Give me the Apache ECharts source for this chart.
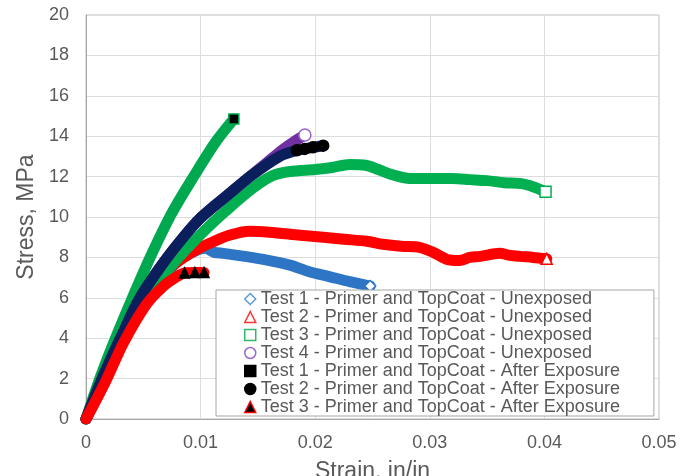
<!DOCTYPE html>
<html>
<head>
<meta charset="utf-8">
<script src="https://cdn.jsdelivr.net/npm/echarts@6/dist/echarts.min.js"></script>
<style>
  html, body { margin: 0; padding: 0; background: #fff; }
  #chart { width: 684px; height: 476px; }
</style>
</head>
<body>
<div id="chart"></div>
<script>
// Stress-strain curves, [strain (in/in), stress (MPa)]
const test1Unexposed = [[0,0],[0.0017,2.0],[0.0033,4.0],[0.0054,6.0],[0.0078,7.7],[0.0093,8.25],[0.0104,8.45],[0.0112,8.25],[0.012,8.2],[0.014,8.04],[0.0158,7.87],[0.0178,7.62],[0.0195,7.29],[0.0213,7.04],[0.023,6.8],[0.0248,6.58]];
const test2Unexposed = [[0,0],[0.0017,1.9],[0.0032,3.9],[0.0052,5.9],[0.0072,7.4],[0.0088,8.1],[0.0099,8.46],[0.0108,8.7],[0.0125,9.1],[0.0143,9.3],[0.016,9.25],[0.0187,9.1],[0.0207,9.0],[0.0225,8.9],[0.0245,8.8],[0.0259,8.65],[0.0275,8.55],[0.0291,8.5],[0.0303,8.25],[0.0315,7.9],[0.0326,7.85],[0.0335,8.0],[0.0344,8.05],[0.0361,8.2],[0.037,8.1],[0.0379,8.05],[0.039,8.0],[0.0402,7.93]];
const test3Unexposed = [[0,0],[0.0015,2.0],[0.0032,4.0],[0.0052,6.0],[0.0081,8.0],[0.0103,9.3],[0.0122,10.3],[0.0145,11.4],[0.0163,12.05],[0.0178,12.25],[0.020,12.35],[0.0215,12.45],[0.023,12.6],[0.0245,12.55],[0.0255,12.35],[0.027,12.05],[0.0285,11.9],[0.030,11.9],[0.032,11.9],[0.0335,11.85],[0.035,11.8],[0.0365,11.7],[0.038,11.65],[0.039,11.5],[0.0401,11.25]];
const test4Unexposed = [[0,0],[0.0014,2.0],[0.003,4.0],[0.0047,6.0],[0.0071,8.0],[0.0099,9.9],[0.0126,11.2],[0.0143,12.0],[0.0158,12.7],[0.0172,13.35],[0.0182,13.75],[0.0191,14.06]];
const test1Exposed = [[0,0],[0.0012,2.0],[0.0025,3.9],[0.0039,5.8],[0.0056,8.0],[0.0075,10.2],[0.0095,12.1],[0.0113,13.7],[0.0129,14.85]];
const test2Exposed = [[0,0],[0.0014,2.0],[0.003,4.0],[0.0047,6.0],[0.0071,8.0],[0.0085,9.0],[0.0099,9.9],[0.0126,11.2],[0.0143,12.0],[0.0169,13.0],[0.0184,13.3],[0.0191,13.37],[0.0198,13.45],[0.0207,13.53]];
const test3Exposed = [[0,0],[0.0017,1.85],[0.0033,3.8],[0.0053,5.7],[0.0068,6.6],[0.0078,7.0],[0.0086,7.23],[0.0095,7.25],[0.0103,7.25]];

const seriesNames = [
  'Test 1 - Primer and TopCoat - Unexposed',
  'Test 2 - Primer and TopCoat - Unexposed',
  'Test 3 - Primer and TopCoat - Unexposed',
  'Test 4 - Primer and TopCoat - Unexposed',
  'Test 1 - Primer and TopCoat - After Exposure',
  'Test 2 - Primer and TopCoat - After Exposure',
  'Test 3 - Primer and TopCoat - After Exposure'
];
const xTicks = { min: 0, max: 0.05, interval: 0.01 };
const yTicks = { min: 0, max: 20, interval: 2 };

// band colour, end-marker shape, fill, border, how many trailing points show a marker
const looks = [
  { data: test1Unexposed, band: '#2E75C6', symbol: 'diamond',  fill: '#fff', edge: '#2E75C6', size: 11, tail: 1 },
  { data: test2Unexposed, band: '#FF0000', symbol: 'triangle', fill: '#fff', edge: '#FF0000', size: 11, tail: 1 },
  { data: test3Unexposed, band: '#00B050', symbol: 'rect',     fill: '#fff', edge: '#00B050', size: 11, tail: 1 },
  { data: test4Unexposed, band: '#7030A0', symbol: 'circle',   fill: '#fff', edge: '#9966CC', size: 12, tail: 1 },
  { data: test1Exposed,   band: '#00A94F', symbol: 'rect',     fill: '#000', edge: '#00A94F', size: 10, tail: 1 },
  { data: test2Exposed,   band: '#0A1F5C', symbol: 'circle',   fill: '#000', edge: '#000',    size: 11, tail: 4 },
  { data: test3Exposed,   band: '#FF0000', symbol: 'triangle', fill: '#000', edge: '#000',    size: 10, tail: 3 }
];

const legendIcons = [
  { icon: 'diamond',  fill: '#fff', edge: '#5B9BD5' },
  { icon: 'triangle', fill: '#fff', edge: '#FF3333' },
  { icon: 'rect',     fill: '#fff', edge: '#33B86A' },
  { icon: 'circle',   fill: '#fff', edge: '#9966CC' },
  { icon: 'rect',     fill: '#000', edge: '#000' },
  { icon: 'circle',   fill: '#000', edge: '#000' },
  { icon: 'triangle', fill: '#000', edge: '#FF0000' }
];

const fontFamily = 'Liberation Sans, Arial, sans-serif';
const axisText = { color: '#595959', fontSize: 18, fontFamily: fontFamily };

const chart = echarts.init(document.getElementById('chart'), null, { renderer: 'canvas' });

chart.setOption({
  animation: false,
  backgroundColor: '#fff',
  grid: {
    left: 86, right: 25, top: 15, bottom: 57,
    outerBoundsMode: 'none',
    show: true, borderColor: '#BDBDBD', borderWidth: 1
  },
  xAxis: {
    type: 'value', min: xTicks.min, max: xTicks.max, interval: xTicks.interval,
    name: 'Strain, in/in', nameLocation: 'middle', nameGap: 41,
    nameTextStyle: { color: '#595959', fontSize: 23, fontFamily: fontFamily },
    axisLine: { show: true, lineStyle: { color: '#A6A6A6' } },
    axisTick: { show: false },
    axisLabel: Object.assign({ margin: 15 }, axisText),
    splitLine: { show: true, lineStyle: { color: '#DDDDDD', width: 1 } }
  },
  yAxis: {
    type: 'value', min: yTicks.min, max: yTicks.max, interval: yTicks.interval,
    name: 'Stress, MPa', nameLocation: 'middle', nameGap: 45,
    nameTextStyle: { color: '#595959', fontSize: 23, fontFamily: fontFamily },
    axisLine: { show: true, lineStyle: { color: '#A6A6A6' } },
    axisTick: { show: false },
    axisLabel: Object.assign({ margin: 17 }, axisText),
    splitLine: { show: true, lineStyle: { color: '#DDDDDD', width: 1 } }
  },
  legend: {
    orient: 'vertical',
    left: 216, top: 290,
    backgroundColor: '#fff',
    borderColor: '#A6A6A6', borderWidth: 1,
    padding: [0, 34, 0, 28],
    itemGap: 0,
    itemWidth: 11, itemHeight: 11,
    textStyle: { color: '#595959', fontSize: 18, lineHeight: 18, fontFamily: fontFamily },
    data: seriesNames.map((n, i) => ({
      name: n,
      icon: legendIcons[i].icon,
      itemStyle: { color: legendIcons[i].fill, borderColor: legendIcons[i].edge, borderWidth: 1.5 }
    }))
  },
  series: looks.map((s, i) => ({
    name: seriesNames[i],
    type: 'line',
    data: s.data,
    smooth: 0.3,
    z: 2 + i,
    symbol: s.symbol,
    showSymbol: true,
    symbolSize: (val, params) => (params.dataIndex >= s.data.length - s.tail ? s.size : 0),
    lineStyle: { color: s.band, width: 11, cap: 'round', join: 'round' },
    itemStyle: { color: s.fill, borderColor: s.edge, borderWidth: 1.5, opacity: 1 },
    emphasis: { disabled: true }
  }))
});
</script>
</body>
</html>
